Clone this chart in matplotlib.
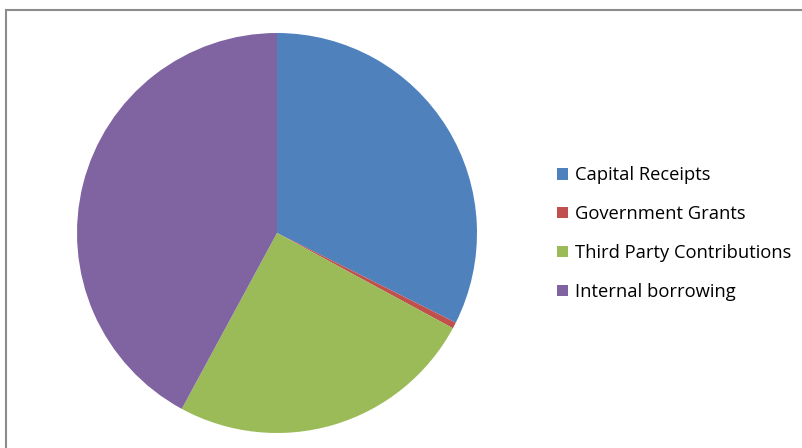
import matplotlib.pyplot as plt
from matplotlib.patches import Rectangle

labels = ['Capital Receipts', 'Government Grants', 'Third Party Contributions', 'Internal borrowing']
values = [32.4, 0.5, 25.0, 42.1]
colors = ['#4F81BD', '#C0504D', '#9BBB59', '#8064A2']

W, H = 803, 448
fig = plt.figure(figsize=(W / 100, H / 100), dpi=100)

# chart border (grey frame, cut by the image edge on the right/bottom)
fig.patches.append(Rectangle((6 / W, -0.1), 1.2, (H - 10) / H + 0.1 - 0.5 / H,
                             transform=fig.transFigure, fill=False,
                             edgecolor='#8c8c8c', linewidth=1.5))

cx, cy, r = 277, 233, 200
ax = fig.add_axes([(cx - r) / W, (H - cy - r) / H, 2 * r / W, 2 * r / H])
wedges, _ = ax.pie(values, colors=colors, startangle=90, counterclock=False,
                   radius=1.0, wedgeprops=dict(linewidth=0))
ax.set_xlim(-1, 1)
ax.set_ylim(-1, 1)
ax.set_aspect('equal')
ax.axis('off')

leg = fig.legend(wedges, labels, loc='upper left',
                 bbox_to_anchor=(548 / W, (H - 157) / H),
                 frameon=False, prop={'family': 'Open Sans', 'size': 13.2},
                 handlelength=0.6, handleheight=0.6, handletextpad=0.35,
                 labelspacing=1.14, borderpad=0)

fig.savefig('out.png', dpi=100)
